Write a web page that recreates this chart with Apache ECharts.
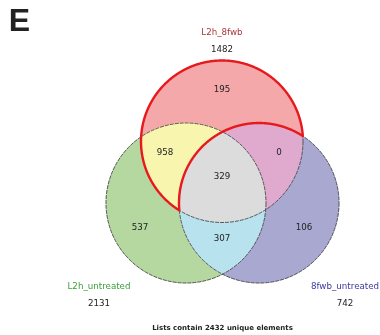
<!DOCTYPE html>
<html>
<head>
<meta charset="utf-8">
<script src="https://cdn.jsdelivr.net/npm/echarts@6/dist/echarts.min.js"></script>
<style>
  html, body { margin: 0; padding: 0; background: #fff; }
  #chart { width: 380px; height: 335px; }
</style>
</head>
<body>
<div id="chart"></div>
<script>
// sets: 0 = L2h_8fwb (top), 1 = L2h_untreated (left), 2 = 8fwb_untreated (right)
const setNames = ['L2h_8fwb', 'L2h_untreated', '8fwb_untreated'];
const setTotals = [1482, 2131, 742];
// region membership key, one char per set
const regionKeys = ['100', '110', '111', '101', '010', '011', '001'];
const regionCounts = [195, 958, 329, 0, 537, 307, 106];
const uniqueTotal = 2432;
const panelLetter = 'E';

// layout (in chart units, 1 unit = 1 px)
const circles = [
  { cx: 222, cy: 141.5, r: 81 },
  { cx: 186, cy: 203, r: 80 },
  { cx: 259, cy: 203, r: 80 }
];
const regionColors = ['#f5a8aa', '#f8f6ae', '#dcdcdc', '#dfaace', '#b4d8a0', '#b8e2ee', '#a9a8d1'];
const regionLabelPos = [[222, 90], [165, 153], [222, 177], [279, 153], [140, 228], [222, 239], [304, 228]];
const setNamePos = [[222, 33], [99, 287], [345, 287]];
const setTotalPos = [[222, 50], [99, 304], [345, 304]];
const setColors = ['#a8383c', '#3ca03c', '#3c3a9c'];

const FONT = '"DejaVu Sans", Verdana, sans-serif';

function inside(c, x, y) {
  return (x - c.cx) * (x - c.cx) + (y - c.cy) * (y - c.cy) <= c.r * c.r;
}

// outline of the area matching key ('1' in, '0' out, '-' any), walked as a polygon
function regionPolygon(key) {
  const N = 720;
  const arcs = [];
  circles.forEach((c, i) => {
    if (key[i] === '-') return;
    const ok = [];
    const pts = [];
    for (let k = 0; k < N; k++) {
      const a = 2 * Math.PI * k / N;
      const x = c.cx + c.r * Math.cos(a);
      const y = c.cy + c.r * Math.sin(a);
      pts.push([x, y]);
      ok.push(circles.every((o, j) => j === i || key[j] === '-' || inside(o, x, y) === (key[j] === '1')));
    }
    let start = -1;
    for (let k = 0; k < N; k++) {
      if (ok[k] && !ok[(k - 1 + N) % N]) { start = k; break; }
    }
    if (start < 0) return;
    const arc = [];
    for (let k = start; ok[k % N] && arc.length < N; k++) arc.push(pts[k % N]);
    arcs.push(arc);
  });
  let poly = arcs.shift();
  while (arcs.length) {
    const end = poly[poly.length - 1];
    let best = 0, rev = false, bd = Infinity;
    arcs.forEach((a, i) => {
      const d1 = Math.hypot(end[0] - a[0][0], end[1] - a[0][1]);
      const d2 = Math.hypot(end[0] - a[a.length - 1][0], end[1] - a[a.length - 1][1]);
      if (d1 < bd) { bd = d1; best = i; rev = false; }
      if (d2 < bd) { bd = d2; best = i; rev = true; }
    });
    let a = arcs.splice(best, 1)[0];
    if (rev) a = a.slice().reverse();
    poly = poly.concat(a);
  }
  return poly;
}

const labels = [];
regionCounts.forEach((v, i) => labels.push({ text: String(v), pos: regionLabelPos[i], color: '#222', font: '8.7px ' + FONT }));
setNames.forEach((n, i) => {
  labels.push({ text: n, pos: setNamePos[i], color: setColors[i], font: '8.7px ' + FONT });
  labels.push({ text: String(setTotals[i]), pos: setTotalPos[i], color: '#222', font: '8.7px ' + FONT });
});
labels.push({ text: 'Lists contain ' + uniqueTotal + ' unique elements', pos: [222.5, 328], color: '#222', font: 'bold 7px ' + FONT });
labels.push({ text: panelLetter, pos: [19.5, 22], color: '#222', font: 'bold 32px "Liberation Sans", Arial, sans-serif' });

const chart = echarts.init(document.getElementById('chart'));

const option = {
  animation: false,
  backgroundColor: '#fff',
  grid: { left: 0, right: 0, top: 0, bottom: 0 },
  xAxis: { type: 'value', min: 0, max: 380, show: false },
  yAxis: { type: 'value', min: 0, max: 335, inverse: true, show: false },
  series: [
    {
      type: 'custom',
      data: regionKeys.map((k, i) => [i]),
      renderItem: function (params, api) {
        const i = params.dataIndex;
        const points = regionPolygon(regionKeys[i]).map(p => api.coord(p));
        return {
          type: 'polygon',
          shape: { points: points },
          style: { fill: regionColors[i], stroke: regionColors[i], lineWidth: 0.5 }
        };
      }
    },
    {
      type: 'custom',
      data: circles.map((c, i) => [i]),
      renderItem: function (params, api) {
        const c = circles[params.dataIndex];
        const p = api.coord([c.cx, c.cy]);
        return {
          type: 'circle',
          shape: { cx: p[0], cy: p[1], r: api.size([c.r, 0])[0] },
          style: { fill: null, stroke: '#4a4a4a', lineWidth: 0.9, lineDash: [4, 1] }
        };
      }
    },
    {
      // highlighted outline: L2h_8fwb outside 8fwb_untreated
      type: 'custom',
      data: [[0]],
      renderItem: function (params, api) {
        const points = regionPolygon('1-0').map(p => api.coord(p));
        return {
          type: 'polygon',
          shape: { points: points },
          style: { fill: null, stroke: '#e8191c', lineWidth: 2.4 }
        };
      }
    },
    {
      type: 'custom',
      data: labels.map((l, i) => [i]),
      renderItem: function (params, api) {
        const l = labels[params.dataIndex];
        const p = api.coord(l.pos);
        return {
          type: 'text',
          x: p[0],
          y: p[1],
          style: { text: l.text, fill: l.color, font: l.font, align: 'center', verticalAlign: 'middle' }
        };
      }
    }
  ]
};

chart.setOption(option);
</script>
</body>
</html>
